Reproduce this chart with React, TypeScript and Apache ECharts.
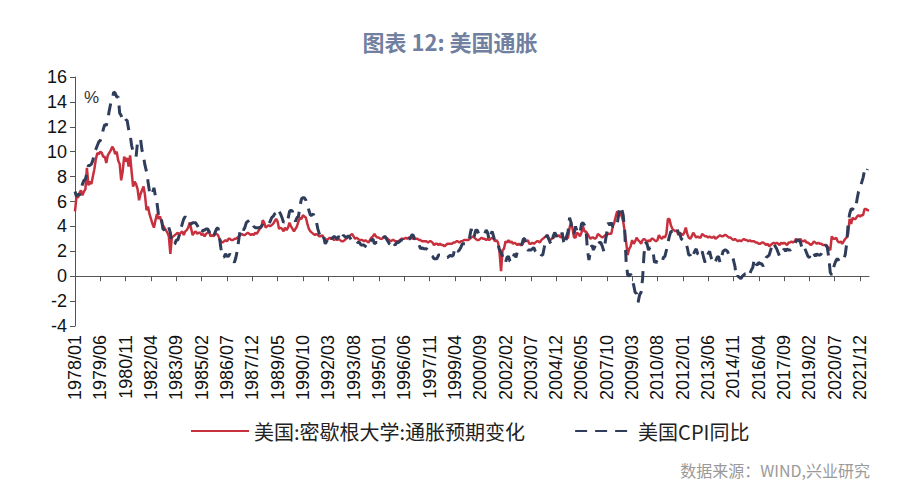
import React, { useEffect, useRef } from "react";
import * as echarts from "echarts";

// Months 1978/01 .. 2022/06
const FIRST_YEAR = 1978;
const LAST_YEAR = 2022;
const LAST_MONTH = 6;
const categories: string[] = [];
for (let y = FIRST_YEAR; y <= LAST_YEAR; y++) {
  for (let m = 1; m <= 12; m++) {
    if (y === LAST_YEAR && m > LAST_MONTH) break;
    categories.push(`${y}/${String(m).padStart(2, "0")}`);
  }
}

// University of Michigan 1-year inflation expectations (%), monthly
const mich1978 = [5.2, 6.4, 6.3, 6.7, 6.9, 6.5, 6.8, 7.0, 8.7, 7.3, 7.6, 7.4];
const mich1979 = [8.0, 8.6, 9.4, 9.9, 9.8, 10.0, 9.9, 9.6, 9.6, 9.1, 9.7, 9.9];
const mich1980 = [10.1, 10.4, 10.2, 9.8, 10.0, 9.3, 9.0, 7.7, 8.4, 9.6, 9.2, 9.5];
const mich1981 = [8.8, 9.7, 8.4, 7.2, 7.6, 7.4, 7.0, 6.1, 6.6, 6.9, 7.2, 6.5];
const mich1982 = [5.3, 5.6, 5.0, 4.6, 4.2, 3.9, 4.5, 5.0, 4.6, 4.8, 4.4, 4.1];
const mich1983 = [3.9, 3.7, 3.5, 3.2, 1.8, 3.1, 3.2, 3.3, 3.4, 3.5, 3.3, 3.5];
const mich1984 = [3.6, 3.3, 3.6, 3.7, 3.9, 4.3, 3.8, 3.3, 3.5, 3.6, 3.4, 3.5];
const mich1985 = [3.5, 3.3, 3.4, 3.2, 3.4, 3.5, 3.6, 3.2, 3.3, 3.2, 3.4, 3.4];
const mich1986 = [3.3, 3.0, 2.8, 2.7, 2.8, 2.9, 2.8, 3.0, 3.0, 2.9, 2.9, 3.0];
const mich1987 = [3.0, 3.1, 3.2, 3.3, 3.4, 3.3, 3.3, 3.4, 3.5, 3.4, 3.3, 3.4];
const mich1988 = [3.3, 3.5, 3.4, 3.6, 3.8, 3.9, 4.5, 4.3, 3.9, 4.0, 4.1, 4.0];
const mich1989 = [4.1, 4.2, 4.4, 4.6, 4.4, 3.8, 3.9, 3.8, 3.6, 3.9, 3.7, 3.9];
const mich1990 = [4.3, 4.0, 3.8, 3.6, 3.8, 4.0, 4.4, 4.7, 4.6, 4.9, 4.8, 4.7];
const mich1991 = [4.2, 3.8, 3.6, 3.5, 3.4, 3.3, 3.4, 3.3, 3.2, 3.2, 3.3, 3.1];
const mich1992 = [3.0, 2.9, 3.0, 3.1, 3.0, 3.0, 2.9, 3.0, 2.9, 3.0, 2.9, 2.8];
const mich1993 = [2.8, 2.9, 3.0, 3.1, 3.2, 3.3, 3.4, 3.2, 3.0, 3.1, 3.0, 2.9];
const mich1994 = [2.9, 2.9, 2.8, 2.9, 2.8, 2.7, 2.9, 3.1, 3.2, 3.4, 3.2, 3.1];
const mich1995 = [3.1, 3.0, 3.0, 3.1, 3.2, 3.1, 3.0, 2.9, 2.8, 2.9, 2.9, 2.8];
const mich1996 = [2.8, 2.8, 2.9, 3.0, 3.0, 3.0, 3.1, 3.0, 3.1, 3.1, 3.1, 3.0];
const mich1997 = [3.0, 3.0, 3.0, 2.9, 2.9, 2.8, 2.8, 2.8, 2.8, 2.7, 2.8, 2.8];
const mich1998 = [2.7, 2.5, 2.6, 2.6, 2.5, 2.6, 2.5, 2.5, 2.4, 2.5, 2.6, 2.6];
const mich1999 = [2.6, 2.6, 2.7, 2.7, 2.8, 2.8, 2.7, 2.8, 2.8, 2.9, 2.9, 2.9];
const mich2000 = [2.9, 3.0, 3.1, 3.2, 3.1, 3.0, 2.9, 2.9, 3.0, 3.1, 3.0, 3.0];
const mich2001 = [2.9, 3.0, 2.9, 3.0, 3.1, 3.0, 2.8, 2.9, 2.7, 1.9, 0.4, 2.1];
const mich2002 = [2.2, 2.8, 2.7, 2.9, 2.7, 2.8, 2.6, 2.7, 2.6, 2.5, 2.6, 2.5];
const mich2003 = [2.5, 2.7, 2.9, 2.8, 2.9, 2.6, 2.6, 2.7, 2.6, 2.7, 2.8, 2.8];
const mich2004 = [2.7, 2.9, 3.0, 3.1, 3.2, 3.3, 3.0, 2.9, 3.0, 3.1, 3.2, 3.3];
const mich2005 = [3.2, 3.3, 3.1, 3.2, 3.1, 3.0, 3.0, 3.1, 3.9, 4.3, 3.8, 3.1];
const mich2006 = [3.1, 3.5, 3.4, 3.2, 3.5, 4.0, 3.6, 3.6, 3.4, 3.2, 3.0, 3.1];
const mich2007 = [3.1, 3.0, 3.1, 3.4, 3.3, 3.2, 3.1, 3.2, 3.3, 3.3, 3.4, 3.4];
const mich2008 = [3.4, 4.0, 4.3, 4.8, 5.2, 5.1, 5.1, 4.8, 4.4, 3.6, 2.7, 1.7];
const mich2009 = [2.2, 2.4, 2.9, 2.6, 2.8, 3.1, 2.9, 2.8, 2.6, 2.9, 3.0, 2.9];
const mich2010 = [2.7, 2.9, 2.8, 3.0, 3.0, 2.9, 2.8, 2.9, 3.3, 3.1, 3.0, 3.2];
const mich2011 = [3.1, 3.4, 4.6, 4.6, 4.1, 3.8, 3.7, 3.6, 3.7, 3.3, 3.5, 3.4];
const mich2012 = [3.3, 3.5, 3.9, 3.4, 3.1, 3.0, 3.2, 3.5, 3.3, 3.1, 3.2, 3.1];
const mich2013 = [3.1, 3.4, 3.3, 3.2, 3.2, 3.1, 3.2, 3.1, 3.1, 3.2, 3.0, 3.1];
const mich2014 = [3.2, 3.3, 3.2, 3.2, 3.3, 3.3, 3.2, 3.1, 3.1, 3.0, 2.9, 3.0];
const mich2015 = [2.9, 2.8, 2.9, 2.8, 2.9, 3.0, 2.9, 2.9, 2.8, 2.9, 2.8, 2.8];
const mich2016 = [2.8, 2.7, 2.7, 2.6, 2.6, 2.7, 2.7, 2.6, 2.5, 2.6, 2.4, 2.5];
const mich2017 = [2.6, 2.7, 2.6, 2.7, 2.6, 2.5, 2.7, 2.6, 2.7, 2.6, 2.5, 2.7];
const mich2018 = [2.7, 2.8, 2.7, 2.8, 3.0, 2.9, 2.9, 3.0, 2.8, 2.8, 2.9, 2.7];
const mich2019 = [2.7, 2.6, 2.5, 2.6, 2.8, 2.7, 2.6, 2.7, 2.6, 2.6, 2.5, 2.5];
const mich2020 = [2.5, 2.4, 2.2, 2.1, 3.2, 3.0, 3.0, 3.1, 2.8, 2.7, 2.8, 2.6];
const mich2021 = [2.8, 3.0, 3.1, 3.4, 4.6, 4.2, 4.7, 4.6, 4.6, 4.8, 4.9, 4.8];
const mich2022 = [4.9, 4.9, 5.4, 5.4, 5.3, 5.3];

// US CPI year-on-year (%), monthly
const cpi1978 = [6.8, 6.4, 6.6, 6.5, 6.9, 7.4, 7.7, 7.8, 8.3, 8.9, 8.9, 9.0];
const cpi1979 = [9.3, 9.9, 10.2, 10.5, 10.8, 10.9, 11.3, 11.8, 12.2, 12.1, 12.6, 13.3];
const cpi1980 = [13.9, 14.2, 14.8, 14.7, 14.4, 14.4, 13.1, 12.9, 12.6, 12.8, 12.6, 12.5];
const cpi1981 = [11.8, 11.4, 10.5, 10.0, 9.8, 9.6, 10.8, 10.8, 11.0, 10.1, 9.6, 8.9];
const cpi1982 = [8.4, 7.6, 6.8, 6.5, 6.7, 7.1, 6.4, 5.9, 5.0, 5.1, 4.6, 3.8];
const cpi1983 = [3.7, 3.5, 3.6, 3.9, 3.5, 2.6, 2.5, 2.6, 2.9, 2.9, 3.3, 3.8];
const cpi1984 = [4.2, 4.6, 4.8, 4.6, 4.2, 4.2, 4.2, 4.3, 4.3, 4.3, 4.1, 3.9];
const cpi1985 = [3.5, 3.5, 3.7, 3.7, 3.8, 3.8, 3.6, 3.3, 3.1, 3.2, 3.5, 3.8];
const cpi1986 = [3.9, 3.1, 2.2, 1.6, 1.5, 1.8, 1.6, 1.6, 1.8, 1.5, 1.3, 1.1];
const cpi1987 = [1.5, 2.1, 3.0, 3.8, 3.9, 3.7, 3.9, 4.3, 4.4, 4.5, 4.5, 4.4];
const cpi1988 = [4.0, 3.9, 3.9, 3.9, 3.9, 4.0, 4.1, 4.0, 4.2, 4.2, 4.2, 4.4];
const cpi1989 = [4.7, 4.8, 5.0, 5.1, 5.4, 5.2, 5.0, 4.7, 4.3, 4.5, 4.7, 4.6];
const cpi1990 = [5.2, 5.3, 5.2, 4.7, 4.4, 4.7, 4.8, 5.6, 6.2, 6.3, 6.3, 6.1];
const cpi1991 = [5.7, 5.3, 4.9, 4.9, 5.0, 4.7, 4.4, 3.8, 3.4, 2.9, 3.0, 3.1];
const cpi1992 = [2.6, 2.8, 3.2, 3.2, 3.0, 3.1, 3.2, 3.1, 3.0, 3.2, 3.0, 2.9];
const cpi1993 = [3.3, 3.2, 3.1, 3.2, 3.2, 3.0, 2.8, 2.8, 2.7, 2.8, 2.7, 2.7];
const cpi1994 = [2.5, 2.5, 2.5, 2.4, 2.3, 2.5, 2.8, 2.9, 3.0, 2.6, 2.7, 2.7];
const cpi1995 = [2.8, 2.9, 2.9, 3.1, 3.2, 3.0, 2.8, 2.6, 2.5, 2.8, 2.6, 2.5];
const cpi1996 = [2.7, 2.7, 2.8, 2.9, 2.9, 2.8, 3.0, 2.9, 3.0, 3.0, 3.3, 3.3];
const cpi1997 = [3.0, 3.0, 2.8, 2.5, 2.2, 2.3, 2.2, 2.2, 2.2, 2.1, 1.8, 1.7];
const cpi1998 = [1.6, 1.4, 1.4, 1.4, 1.7, 1.7, 1.7, 1.6, 1.5, 1.5, 1.5, 1.6];
const cpi1999 = [1.7, 1.6, 1.7, 2.3, 2.1, 2.0, 2.1, 2.3, 2.6, 2.6, 2.6, 2.7];
const cpi2000 = [2.7, 3.2, 3.8, 3.1, 3.2, 3.7, 3.7, 3.4, 3.5, 3.4, 3.4, 3.4];
const cpi2001 = [3.7, 3.5, 2.9, 3.3, 3.6, 3.2, 2.7, 2.7, 2.6, 2.1, 1.9, 1.6];
const cpi2002 = [1.1, 1.1, 1.5, 1.6, 1.2, 1.1, 1.5, 1.8, 1.5, 2.0, 2.2, 2.4];
const cpi2003 = [2.6, 3.0, 3.0, 2.2, 2.1, 2.1, 2.1, 2.2, 2.3, 2.0, 1.8, 1.9];
const cpi2004 = [1.9, 1.7, 1.7, 2.3, 3.1, 3.3, 3.0, 2.7, 2.5, 3.2, 3.5, 3.3];
const cpi2005 = [3.0, 3.0, 3.1, 3.5, 2.8, 2.5, 3.2, 3.6, 4.7, 4.3, 3.5, 3.4];
const cpi2006 = [4.0, 3.6, 3.4, 3.5, 4.2, 4.3, 4.1, 3.8, 2.1, 1.3, 2.0, 2.5];
const cpi2007 = [2.1, 2.4, 2.8, 2.6, 2.7, 2.7, 2.4, 2.0, 2.8, 3.5, 4.3, 4.1];
const cpi2008 = [4.3, 4.0, 4.0, 3.9, 4.2, 5.0, 5.6, 5.4, 4.9, 3.7, 1.1, 0.1];
const cpi2009 = [0.0, 0.2, -0.4, -0.7, -1.3, -1.4, -2.1, -1.5, -1.3, -0.2, 1.8, 2.7];
const cpi2010 = [2.6, 2.1, 2.3, 2.2, 2.0, 1.1, 1.2, 1.1, 1.1, 1.2, 1.1, 1.5];
const cpi2011 = [1.6, 2.1, 2.7, 3.2, 3.6, 3.6, 3.6, 3.8, 3.9, 3.5, 3.4, 3.0];
const cpi2012 = [2.9, 2.9, 2.7, 2.3, 1.7, 1.7, 1.4, 1.7, 2.0, 2.2, 1.8, 1.7];
const cpi2013 = [1.6, 2.0, 1.5, 1.1, 1.4, 1.8, 2.0, 1.5, 1.2, 1.0, 1.2, 1.5];
const cpi2014 = [1.6, 1.1, 1.5, 2.0, 2.1, 2.1, 2.0, 1.7, 1.7, 1.7, 1.3, 0.8];
const cpi2015 = [-0.1, 0.0, -0.1, -0.2, 0.0, 0.1, 0.2, 0.2, 0.0, 0.2, 0.5, 0.7];
const cpi2016 = [1.4, 1.0, 0.9, 1.1, 1.0, 1.0, 0.8, 1.1, 1.5, 1.6, 1.7, 2.1];
const cpi2017 = [2.5, 2.7, 2.4, 2.2, 1.9, 1.6, 1.7, 1.9, 2.2, 2.0, 2.2, 2.1];
const cpi2018 = [2.1, 2.2, 2.4, 2.5, 2.8, 2.9, 2.9, 2.7, 2.3, 2.5, 2.2, 1.9];
const cpi2019 = [1.6, 1.5, 1.9, 2.0, 1.8, 1.6, 1.8, 1.7, 1.7, 1.8, 2.1, 2.3];
const cpi2020 = [2.5, 2.3, 1.5, 0.3, 0.1, 0.6, 1.0, 1.3, 1.4, 1.2, 1.2, 1.4];
const cpi2021 = [1.4, 1.7, 2.6, 4.2, 5.0, 5.4, 5.4, 5.3, 5.4, 6.2, 6.8, 7.0];
const cpi2022 = [7.5, 7.9, 8.5, 8.3, 8.6];

const michigan = [
  ...mich1978, ...mich1979, ...mich1980, ...mich1981, ...mich1982, ...mich1983,
  ...mich1984, ...mich1985, ...mich1986, ...mich1987, ...mich1988, ...mich1989,
  ...mich1990, ...mich1991, ...mich1992, ...mich1993, ...mich1994, ...mich1995,
  ...mich1996, ...mich1997, ...mich1998, ...mich1999, ...mich2000, ...mich2001,
  ...mich2002, ...mich2003, ...mich2004, ...mich2005, ...mich2006, ...mich2007,
  ...mich2008, ...mich2009, ...mich2010, ...mich2011, ...mich2012, ...mich2013,
  ...mich2014, ...mich2015, ...mich2016, ...mich2017, ...mich2018, ...mich2019,
  ...mich2020, ...mich2021, ...mich2022,
];
const cpi = [
  ...cpi1978, ...cpi1979, ...cpi1980, ...cpi1981, ...cpi1982, ...cpi1983,
  ...cpi1984, ...cpi1985, ...cpi1986, ...cpi1987, ...cpi1988, ...cpi1989,
  ...cpi1990, ...cpi1991, ...cpi1992, ...cpi1993, ...cpi1994, ...cpi1995,
  ...cpi1996, ...cpi1997, ...cpi1998, ...cpi1999, ...cpi2000, ...cpi2001,
  ...cpi2002, ...cpi2003, ...cpi2004, ...cpi2005, ...cpi2006, ...cpi2007,
  ...cpi2008, ...cpi2009, ...cpi2010, ...cpi2011, ...cpi2012, ...cpi2013,
  ...cpi2014, ...cpi2015, ...cpi2016, ...cpi2017, ...cpi2018, ...cpi2019,
  ...cpi2020, ...cpi2021, ...cpi2022,
];

const SERIES_MICH = "美国:密歇根大学:通胀预期变化";
const SERIES_CPI = "美国CPI同比";
const TITLE = "图表 12: 美国通胀";
const SOURCE = "数据来源：WIND,兴业研究";

const RED = "#C8303E";
const NAVY = "#2F3D5A";
const AXIS = "#555555";

export default function App() {
  const ref = useRef<HTMLDivElement>(null);
  useEffect(() => {
    if (!ref.current) return;
    const chart = echarts.init(ref.current, undefined, { renderer: "svg" });
    chart.setOption({
      animation: false,
      backgroundColor: "#ffffff",
      title: {
        text: TITLE,
        left: "center",
        top: 25,
        textStyle: {
          fontFamily: "Noto Sans CJK SC",
          fontSize: 22,
          fontWeight: "bold",
          color: "#717FA0",
        },
      },
      grid: { left: 75, right: 31, top: 77, bottom: 169 },
      legend: {
        left: 185,
        top: 416,
        itemWidth: 58,
        itemHeight: 14,
        itemGap: 49,
        itemStyle: { color: "transparent", borderColor: "transparent", borderWidth: 0, opacity: 0 },
        textStyle: { fontFamily: "Noto Sans CJK SC", fontSize: 20, color: "#222" },
        data: [SERIES_MICH, SERIES_CPI],
      },
      xAxis: [
        {
          type: "category",
          data: categories,
          boundaryGap: false,
          position: "bottom",
          axisLine: { show: false, onZero: false },
          axisTick: { show: false },
          axisLabel: {
            interval: 16,
            rotate: 90,
            margin: 9,
            fontFamily: "Liberation Sans",
            fontSize: 18,
            color: "#111",
          },
        },
        {
          type: "category",
          data: categories,
          boundaryGap: false,
          position: "bottom",
          axisLine: { show: true, onZero: true, lineStyle: { color: AXIS, width: 1 } },
          axisTick: { show: true, interval: 16, length: 5, lineStyle: { color: AXIS } },
          axisLabel: { show: false },
        },
      ],
      yAxis: {
        type: "value",
        min: -4,
        max: 16,
        interval: 2,
        axisLine: { show: true, lineStyle: { color: AXIS } },
        axisTick: { show: true, length: 5, lineStyle: { color: AXIS } },
        splitLine: { show: false },
        axisLabel: { fontFamily: "Liberation Sans", fontSize: 18, color: "#111", margin: 8 },
      },
      graphic: [
        {
          type: "text",
          x: 84,
          y: 97,
          style: {
            text: "%",
            font: "17px 'Liberation Sans'",
            fill: "#333",
            verticalAlign: "middle",
          },
        },
        {
          type: "text",
          x: 870,
          y: 470,
          style: {
            text: SOURCE,
            font: "16px 'Noto Sans CJK SC'",
            fill: "#9a9a9a",
            align: "right",
            verticalAlign: "middle",
          },
        },
      ],
      series: [
        {
          name: SERIES_MICH,
          type: "line",
          data: michigan,
          symbol: "none",
          xAxisIndex: 0,
          lineStyle: { color: RED, width: 2.5 },
          itemStyle: { color: RED },
        },
        {
          name: SERIES_CPI,
          type: "line",
          data: cpi,
          symbol: "none",
          xAxisIndex: 0,
          lineStyle: { color: NAVY, width: 3, type: [12, 8] },
          itemStyle: { color: NAVY },
        },
      ],
    });
    return () => chart.dispose();
  }, []);
  return (
    <div
      ref={ref}
      style={{ position: "fixed", left: 0, top: 0, width: 900, height: 495 }}
    />
  );
}
